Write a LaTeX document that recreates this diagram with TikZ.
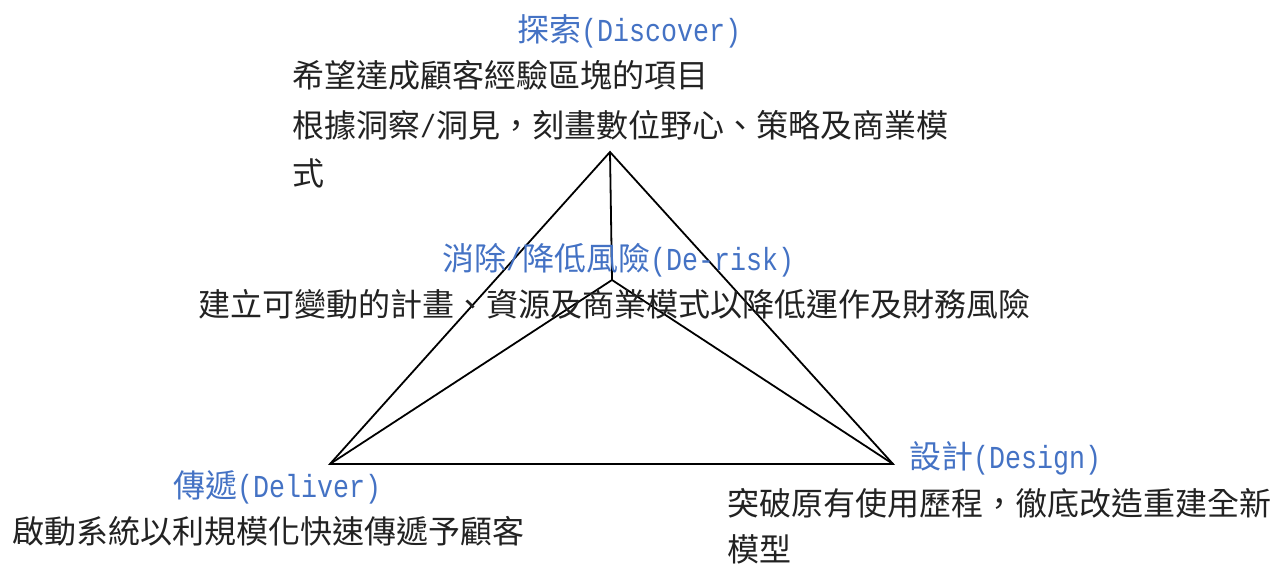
\documentclass[tikz,border=0pt]{standalone}
\usepackage{fontspec}
\newfontfamily\cjk{Noto Sans CJK TC}
\newfontfamily\lat[FakeStretch=0.833]{Liberation Mono}
\definecolor{ttlblue}{HTML}{4472C4}
\definecolor{txtgray}{HTML}{222222}
\begin{document}
\begin{tikzpicture}[x=1pt,y=-1pt,
  txt/.style={anchor=west,inner sep=0pt,yshift=-7pt,font=\cjk\fontsize{32}{40}\selectfont,text height=0.88em,text depth=0.12em,text=txtgray},
  ttl/.style={txt,text=ttlblue},
  edge/.style={line width=1.8pt,line join=miter}]
\useasboundingbox (0,0) rectangle (1274,565);
% triangle
\coordinate (T) at (610,152);
\coordinate (C) at (612,280);
\coordinate (L) at (330,464);
\coordinate (R) at (893,464);
\draw[edge] (T) -- (L) -- (R) -- cycle;
\draw[edge] (T) -- (C);
\draw[edge] (C) -- (L);
\draw[edge] (C) -- (R);
% texts
\node[ttl] (t1) at (517,31) {探索{\lat(Discover)}};
\node[txt] (d1a) at (292,77) {希望達成顧客經驗區塊的項目};
\node[txt] (d1b) at (292,127) {根據洞察{\lat/}洞見，刻畫數位野心、策略及商業模};
\node[txt] (d1c) at (292,175) {式};
\node[ttl] (t2) at (442,260) {消除{\lat/}降低風險{\lat(De-risk)}};
\node[txt] (d2) at (198,306) {建立可變動的計畫、資源及商業模式以降低運作及財務風險};
\node[ttl] (t3) at (909,458) {設計{\lat(Design)}};
\node[txt] (d3a) at (727,505) {突破原有使用歷程，徹底改造重建全新};
\node[txt] (d3b) at (727,551) {模型};
\node[ttl] (t4) at (173,487) {傳遞{\lat(Deliver)}};
\node[txt] (d4) at (12,533) {啟動系統以利規模化快速傳遞予顧客};
\end{tikzpicture}
\end{document}
